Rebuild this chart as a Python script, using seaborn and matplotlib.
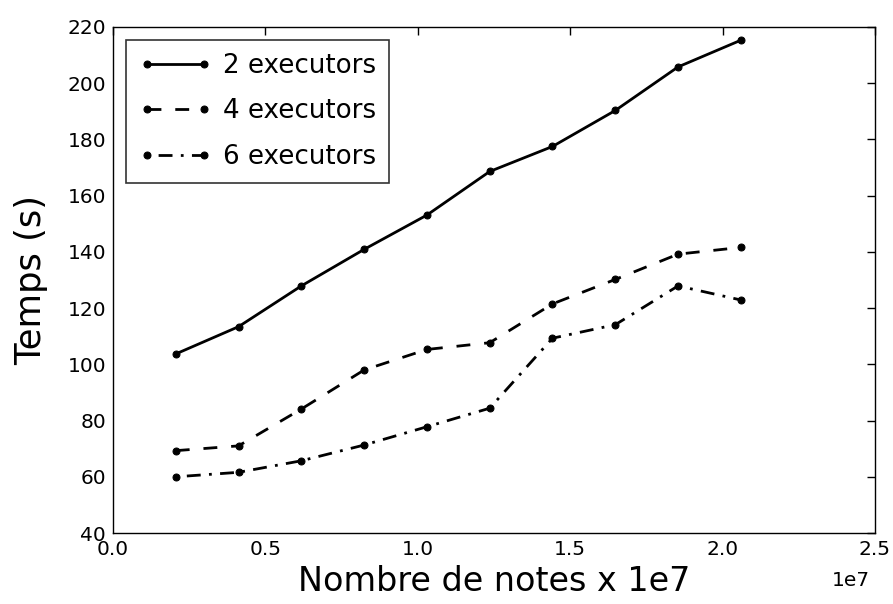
import pandas as pd
import matplotlib.pyplot as plt
import seaborn as sns

# nombre de notes (x) et temps d'execution (s) par nombre d'executors
notes = [2.06e6, 4.12e6, 6.18e6, 8.24e6, 1.03e7, 1.236e7, 1.442e7, 1.648e7, 1.854e7, 2.06e7]
temps_2 = [103.7, 113.4, 127.9, 140.9, 153.1, 168.6, 177.5, 190.3, 205.8, 215.3]
temps_4 = [69.3, 71.0, 84.1, 98.0, 105.3, 107.7, 121.5, 130.2, 139.2, 141.6]
temps_6 = [60.0, 61.6, 65.7, 71.3, 77.8, 84.4, 109.3, 114.1, 127.9, 122.9]
labels = ["2 executors", "4 executors", "6 executors"]

sns.set_style("white")
plt.rcParams['font.family'] = ['DejaVu Sans']
plt.rcParams['text.color'] = 'black'
plt.rcParams['axes.labelcolor'] = 'black'
plt.rcParams['xtick.color'] = 'black'
plt.rcParams['ytick.color'] = 'black'
plt.rcParams['xtick.direction'] = 'in'
plt.rcParams['ytick.direction'] = 'in'

fig = plt.figure(figsize=(8.93, 6.04), dpi=100)
ax = fig.add_axes([0.1265, 0.1175, 0.8533, 0.8378])

styles = [None, (5, 5), (1, 3, 5, 3)]
for vals, lab, dash in zip([temps_2, temps_4, temps_6], labels, styles):
    df = pd.DataFrame({'x': notes, 'y': vals})
    line_kw = dict(color='black', linewidth=2, marker='o', markersize=5,
                   markeredgecolor='black', label=lab)
    if dash is not None:
        line_kw['dashes'] = dash
    sns.lineplot(data=df, x='x', y='y', ax=ax, **line_kw)

ax.set_xlim(0, 2.5e7)
ax.set_ylim(40, 220)
ax.set_xticks([0, 0.5e7, 1.0e7, 1.5e7, 2.0e7, 2.5e7])
ax.set_yticks(range(40, 221, 20))
ax.tick_params(axis='both', which='both', top=True, right=True, length=6,
               width=1, labelsize=14.5, pad=5)
off = ax.xaxis.get_offset_text()
off.set_fontsize(14.5)
off.set_x(0.993)
ax.xaxis.OFFSETTEXTPAD = 9
for s in ax.spines.values():
    s.set_color('black')
    s.set_linewidth(1)

ax.set_xlabel("Nombre de notes x 1e7", fontsize=24, labelpad=4)
ax.set_ylabel("Temps (s)", fontsize=25.5, labelpad=14)

leg = ax.legend(loc='upper left', fontsize=18.8, frameon=True, fancybox=False,
                numpoints=2, handlelength=2.8, borderpad=0.5, labelspacing=0.74,
                handletextpad=0.4)
leg.get_frame().set_edgecolor('black')
leg.get_frame().set_linewidth(1.2)

fig.savefig("out.png", dpi=100)
